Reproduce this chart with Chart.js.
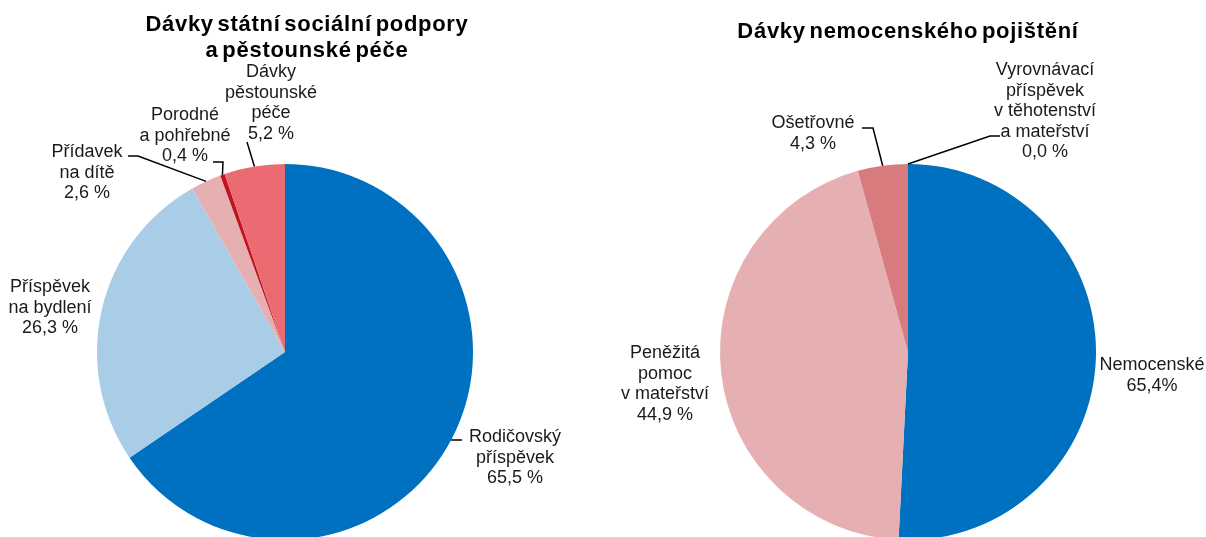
<!DOCTYPE html>
<html lang="cs">
<head>
<meta charset="utf-8">
<title>Dávky</title>
<script src="https://cdn.jsdelivr.net/npm/chart.js@4"></script>
<style>
  html, body { margin: 0; padding: 0; background: #fff; overflow: hidden; }
  #wrap { position: relative; width: 1206px; height: 537px; overflow: hidden; }
  #wrap canvas { position: absolute; left: 0; top: 0; }
</style>
</head>
<body>
<div id="wrap">
  <canvas id="sspChart" width="1206" height="560"></canvas>
  <canvas id="nemChart" width="1206" height="560"></canvas>
</div>
<script>
// levý graf - dávky státní sociální podpory a pěstounské péče
const sspTitle = ['Dávky státní sociální podpory', 'a pěstounské péče'];
const sspLabels = [['Rodičovský', 'příspěvek'], ['Příspěvek', 'na bydlení'], ['Přídavek', 'na dítě'], ['Porodné', 'a pohřebné'], ['Dávky', 'pěstounské', 'péče']];
const sspValues = [65.5, 26.3, 2.6, 0.4, 5.2];
const sspShares = ['65,5 %', '26,3 %', '2,6 %', '0,4 %', '5,2 %'];
const sspColors = ['#0070C0', '#A9CCE7', '#E6AFB2', '#C0151F', '#EA6B72'];

// pravý graf - dávky nemocenského pojištění
// slice sizes, the share texts as printed in it
const nemTitle = ['Dávky nemocenského pojištění'];
const nemLabels = [['Nemocenské'], ['Peněžitá', 'pomoc', 'v mateřství'], ['Ošetřovné'], ['Vyrovnávací', 'příspěvek', 'v těhotenství', 'a mateřství']];
const nemValues = [50.8, 44.9, 4.3, 0.0];
const nemShares = ['65,4%', '44,9 %', '4,3 %', '0,0 %'];
const nemColors = ['#0070C0', '#E6AFB2', '#D87B7E', '#D87B7E'];

// label placement (first line centre) and leader knee points
const sspPlace = [
  { x: 515, y: 437, leader: [[462, 440]] },
  { x: 50, y: 287 },
  { x: 87, y: 152, leader: [[138, 156], [128, 156]] },
  { x: 185, y: 115, leader: [[223, 162], [213, 162]] },
  { x: 271, y: 72, leader: [[247, 142]] }
];
const nemPlace = [
  { x: 1152, y: 365 },
  { x: 665, y: 353 },
  { x: 813, y: 123, leader: [[873, 128], [862, 128]] },
  { x: 1045, y: 70, leader: [[990, 136], [1000, 136]] }
];

const LINE = 20.6;

function labelPlugin(title, titleX, titleY, labels, shares, place) {
  return {
    id: 'pieLabels',
    afterDatasetsDraw(chart) {
      const ctx = chart.ctx;
      const arcs = chart.getDatasetMeta(0).data;
      ctx.save();
      ctx.strokeStyle = '#000';
      ctx.lineWidth = 1.5;
      ctx.fillStyle = '#1a1a1a';
      ctx.textAlign = 'center';
      ctx.textBaseline = 'middle';
      ctx.font = '18px "Liberation Sans", Arial, sans-serif';
      place.forEach((p, i) => {
        if (p.leader) {
          const a = arcs[i].getProps(['x', 'y', 'startAngle', 'endAngle', 'outerRadius'], true);
          const mid = (a.startAngle + a.endAngle) / 2;
          ctx.beginPath();
          ctx.moveTo(a.x + Math.cos(mid) * a.outerRadius, a.y + Math.sin(mid) * a.outerRadius);
          p.leader.forEach(pt => ctx.lineTo(pt[0], pt[1]));
          ctx.stroke();
        }
        labels[i].concat([shares[i]]).forEach((t, k) => ctx.fillText(t, p.x, p.y + k * LINE));
      });
      ctx.fillStyle = '#000';
      ctx.font = 'bold 22px "Liberation Sans", Arial, sans-serif';
      ctx.letterSpacing = '0.7px';
      ctx.wordSpacing = '-3px';
      title.forEach((t, k) => ctx.fillText(t, titleX, titleY + k * 26));
      ctx.restore();
    }
  };
}

function makePie(id, labels, values, colors, pad, plugin) {
  return new Chart(document.getElementById(id), {
    type: 'pie',
    data: {
      labels: labels.map(l => l.join(' ')),
      datasets: [{ data: values, backgroundColor: colors, borderWidth: 0 }]
    },
    options: {
      responsive: false,
      animation: false,
      events: [],
      layout: { padding: pad },
      plugins: { legend: { display: false }, tooltip: { enabled: false } }
    },
    plugins: [plugin]
  });
}

makePie('sspChart', sspLabels, sspValues, sspColors,
  { left: 97, right: 733, top: 164, bottom: 20 },
  labelPlugin(sspTitle, 307, 25, sspLabels, sspShares, sspPlace));

makePie('nemChart', nemLabels, nemValues, nemColors,
  { left: 720, right: 110, top: 164, bottom: 20 },
  labelPlugin(nemTitle, 908, 32, nemLabels, nemShares, nemPlace));
</script>
</body>
</html>
